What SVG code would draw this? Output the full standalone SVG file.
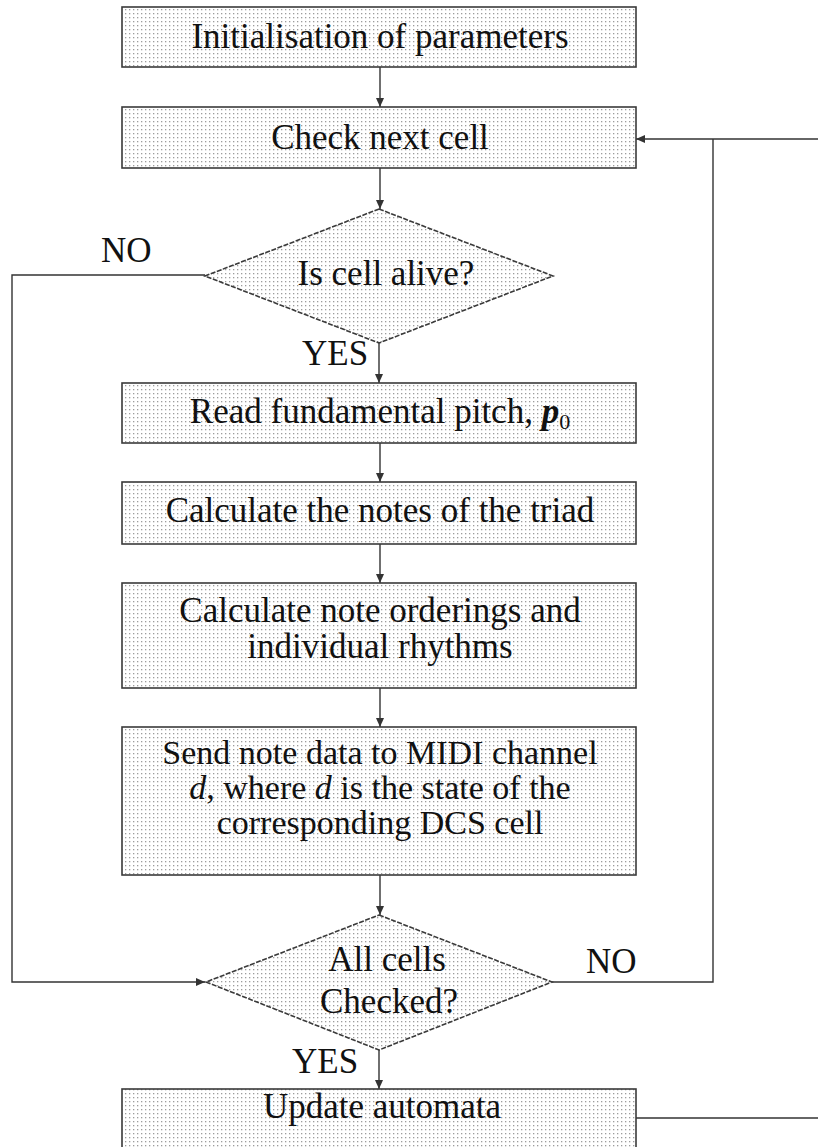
<svg xmlns="http://www.w3.org/2000/svg" width="818" height="1147" viewBox="0 0 818 1147">
  <defs>
    <!-- stippled grey fill used by every process box and decision -->
    <pattern id="dots" width="4" height="4" patternUnits="userSpaceOnUse">
      <rect width="4" height="4" fill="#ffffff"/>
      <rect x="1" y="1" width="1.3" height="1.3" fill="#9c9c9c"/>
    </pattern>
    <marker id="arrow" markerWidth="10" markerHeight="8" refX="9" refY="4" orient="auto" markerUnits="userSpaceOnUse">
      <path d="M0,0 L9,4 L0,8 Z" fill="#333"/>
    </marker>
    <style>
      .box { fill: url(#dots); stroke: #3a3a3a; stroke-width: 1.6; }
      .dec { fill: url(#dots); stroke: #3a3a3a; stroke-width: 1.6; stroke-dasharray: 5 1.5; }
      .lbl { font-family: "Liberation Serif", "Times New Roman", serif; font-size: 35px; fill: #111; }
      .tight { font-size: 34px; }
      .mid { text-anchor: middle; }
      .link { fill: none; stroke: #333; stroke-width: 1.4; }
      .arr { marker-end: url(#arrow); }
    </style>
  </defs>

  <rect width="818" height="1147" fill="#ffffff"/>

  <!-- connectors -->
  <g id="connectors">
    <path class="link arr" d="M380,67 V107"/>
    <path class="link arr" d="M380,168 V209"/>
    <path class="link arr" d="M205,275 H12 V982 H205"/>
    <path class="link arr" d="M379,343 V383"/>
    <path class="link arr" d="M380,443 V482"/>
    <path class="link arr" d="M380,544 V583"/>
    <path class="link arr" d="M380,688 V727"/>
    <path class="link arr" d="M380,875 V915"/>
    <path class="link" d="M552,982 H713 V139"/>
    <path class="link arr" d="M818,139 H636"/>
    <path class="link arr" d="M379,1050 V1089"/>
    <path class="link" d="M636,1118 H818"/>
    <text class="lbl" x="101" y="262">NO</text>
    <text class="lbl" x="302" y="365">YES</text>
    <text class="lbl" x="586" y="973">NO</text>
    <text class="lbl" x="292" y="1073">YES</text>
  </g>

  <g id="init">
    <rect class="box" x="122" y="7" width="514" height="60"/>
    <text class="lbl mid" x="380" y="48">Initialisation of parameters</text>
  </g>

  <g id="check-next">
    <rect class="box" x="122" y="107" width="514" height="61"/>
    <text class="lbl mid" x="380" y="149">Check next cell</text>
  </g>

  <g id="is-alive">
    <polygon class="dec" points="379,209 553,276 379,343 205,276"/>
    <text class="lbl mid" x="386" y="285">Is cell alive?</text>
  </g>

  <g id="read-pitch">
    <rect class="box" x="122" y="383" width="514" height="60"/>
    <text class="lbl mid" x="380" y="423">Read fundamental pitch, <tspan font-style="italic" font-weight="bold">p</tspan><tspan font-size="22" dy="6">0</tspan></text>
  </g>

  <g id="triad">
    <rect class="box" x="122" y="482" width="514" height="62"/>
    <text class="lbl mid" x="380" y="522">Calculate the notes of the triad</text>
  </g>

  <g id="orderings">
    <rect class="box" x="122" y="583" width="514" height="105"/>
    <text class="lbl mid" x="380" y="622">Calculate note orderings and</text>
    <text class="lbl mid" x="380" y="658">individual rhythms</text>
  </g>

  <g id="send-midi">
    <rect class="box" x="122" y="727" width="514" height="148"/>
    <text class="lbl tight mid" x="380" y="764">Send note data to MIDI channel</text>
    <text class="lbl tight mid" x="380" y="799"><tspan font-style="italic">d</tspan>, where <tspan font-style="italic">d</tspan> is the state of the</text>
    <text class="lbl tight mid" x="380" y="834">corresponding DCS cell</text>
  </g>

  <g id="all-checked">
    <polygon class="dec" points="379,915 552,982 379,1050 206,982"/>
    <text class="lbl mid" x="387" y="971">All cells</text>
    <text class="lbl mid" x="389" y="1013">Checked?</text>
  </g>

  <g id="update">
    <rect class="box" x="122" y="1089" width="514" height="60"/>
    <text class="lbl mid" x="382" y="1118">Update automata</text>
  </g>
</svg>
